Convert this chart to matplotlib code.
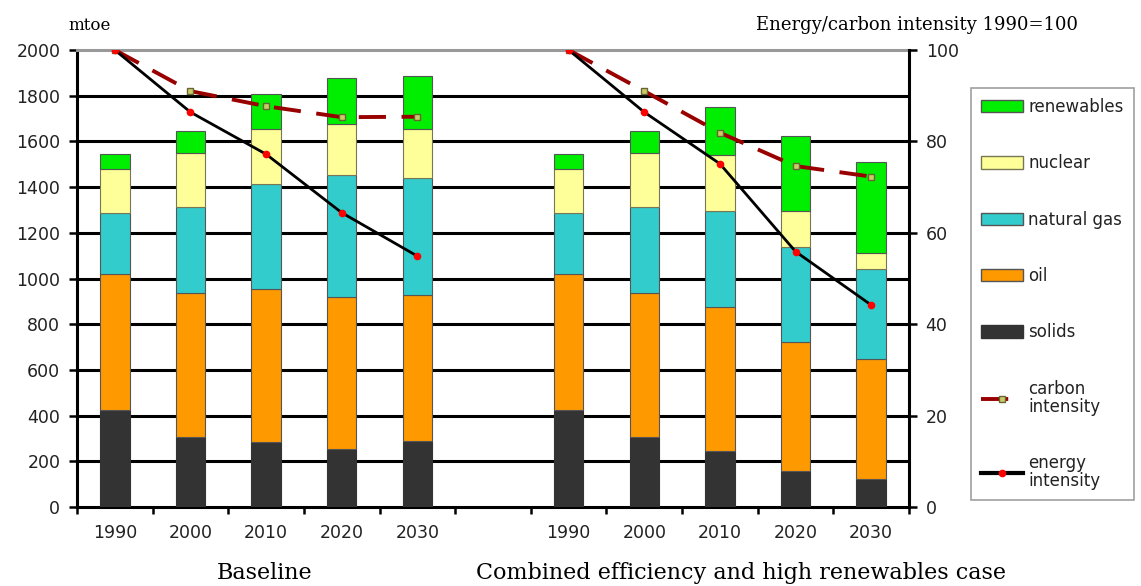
import matplotlib
matplotlib.use("Agg")
import matplotlib.pyplot as plt
import numpy as np
from matplotlib.patches import Patch
from matplotlib.lines import Line2D

years = ["1990", "2000", "2010", "2020", "2030"]
# Baseline (mtoe, individual layers)
base_solids = [425, 308, 283, 254, 290]
base_oil = [595, 627, 670, 666, 636]
base_gas = [265, 379, 459, 533, 515]
base_nuclear = [196, 237, 244, 225, 215]
base_renew = [64, 94, 150, 198, 230]
# Combined efficiency and high renewables case
comb_solids = [425, 308, 246, 159, 123]
comb_oil = [595, 627, 628, 564, 523]
comb_gas = [265, 379, 423, 416, 396]
comb_nuclear = [196, 237, 242, 156, 71]
comb_renew = [64, 94, 210, 329, 395]
# Intensities (1990=100)
base_energy_int = [100, 86.4, 77.2, 64.4, 54.9]
base_carbon_int = [100, 91.0, 87.7, 85.3, 85.4]
comb_energy_int = [100, 86.4, 75.1, 55.9, 44.2]
comb_carbon_int = [100, 91.0, 81.9, 74.6, 72.3]

layer_names = ["solids", "oil", "natural gas", "nuclear", "renewables"]
layer_colors = ["#333333", "#FF9900", "#33CCCC", "#FFFF99", "#00EE00"]
layer_edges = ["#333333", "#555555", "#555555", "#777755", "#555555"]

W, H = 1141, 586
fig = plt.figure(figsize=(W / 100, H / 100), dpi=100)
ax = fig.add_axes([77 / W, 79 / H, 832 / W, 457 / H])
ax2 = ax.twinx()

x_base = np.arange(5)
x_comb = np.arange(6, 11)
width = 0.39

for xs, layers in [(x_base, [base_solids, base_oil, base_gas, base_nuclear, base_renew]),
                   (x_comb, [comb_solids, comb_oil, comb_gas, comb_nuclear, comb_renew])]:
    bottom = np.zeros(5)
    for vals, col, ec in zip(layers, layer_colors, layer_edges):
        ax.bar(xs, vals, width=width, bottom=bottom, color=col, edgecolor=ec,
               linewidth=0.8, zorder=3)
        bottom += np.array(vals)

ax.set_xlim(-0.5, 10.5)
ax.set_ylim(0, 2000)
ax.set_yticks(np.arange(0, 2001, 200))
ax.set_xticks(list(x_base) + list(x_comb))
ax.set_xticklabels(years + years)
ax.set_xticks(np.arange(-0.5, 11, 1), minor=True)
ax.tick_params(axis="x", which="major", length=0, pad=12)
ax.tick_params(axis="x", which="minor", length=5, width=1.8, direction="out")
ax.tick_params(axis="y", length=6, width=1.8, direction="out", pad=6)
for gy in np.arange(200, 2000, 200):
    ax.axhline(gy, color="black", linewidth=2.2, zorder=1)
for s in ["left", "bottom"]:
    ax.spines[s].set_linewidth(2.2)
ax.spines["top"].set_color("#999999")
ax.spines["top"].set_linewidth(2.2)
ax.spines["right"].set_visible(False)

ax2.set_ylim(0, 100)
ax2.set_yticks(np.arange(0, 101, 20))
ax2.tick_params(axis="y", length=6, width=1.8, direction="out", pad=6)
ax2.spines["right"].set_linewidth(2.2)
for s in ["left", "top", "bottom"]:
    ax2.spines[s].set_visible(False)

carbon_style = dict(color="#990000", linewidth=2.8, linestyle=(0, (7, 4)),
                    marker="s", markersize=4, markerfacecolor="#CCCC66",
                    markeredgecolor="#666633")
energy_style = dict(color="black", linewidth=2.0, marker="o", markersize=4.5,
                    markerfacecolor="red", markeredgecolor="red")

for xs, ci, ei in [(x_base, base_carbon_int, base_energy_int),
                   (x_comb, comb_carbon_int, comb_energy_int)]:
    ax2.plot(xs, ci, zorder=5, **carbon_style)
    ax2.plot(xs, ei, zorder=6, **energy_style)

for lab in ax.get_xticklabels() + ax.get_yticklabels() + ax2.get_yticklabels():
    lab.set_fontfamily("DejaVu Sans")
    lab.set_fontsize(12.5)
    lab.set_color("#222222")

fig.text(68 / W, 1 - 25 / H, "mtoe", fontfamily="DejaVu Serif", fontsize=12,
         ha="left", va="center")
fig.text(1078 / W, 1 - 25 / H, "Energy/carbon intensity 1990=100",
         fontfamily="DejaVu Serif", fontsize=13, ha="right", va="center")
fig.text(265 / W, 1 - 573 / H, "Baseline", fontfamily="DejaVu Serif",
         fontsize=16, ha="center", va="center")
fig.text(741 / W, 1 - 573 / H, "Combined efficiency and high renewables case",
         fontfamily="DejaVu Serif", fontsize=16, ha="center", va="center")

handles = []
for name in ["renewables", "nuclear", "natural gas", "oil", "solids"]:
    i = layer_names.index(name)
    handles.append(Patch(facecolor=layer_colors[i], edgecolor=layer_edges[i], label=name))
handles.append(Line2D([], [], label="carbon\nintensity", **carbon_style))
leg_energy = dict(energy_style)
leg_energy["linewidth"] = 3
handles.append(Line2D([], [], label="energy\nintensity", **leg_energy))
leg = fig.legend(handles=handles, loc="upper left",
                 bbox_to_anchor=(971 / W, 1 - 88 / H), frameon=True,
                 fancybox=False, edgecolor="#888888", handlelength=2.5,
                 handleheight=0.75, labelspacing=2.3, borderpad=0.6,
                 handletextpad=0.35, borderaxespad=0,
                 prop={"family": "DejaVu Sans", "size": 12})
leg.get_frame().set_linewidth(1.2)
for t in leg.get_texts():
    t.set_color("#222222")
    t.set_linespacing(1.0)

fig.savefig("out.png", dpi=100)
